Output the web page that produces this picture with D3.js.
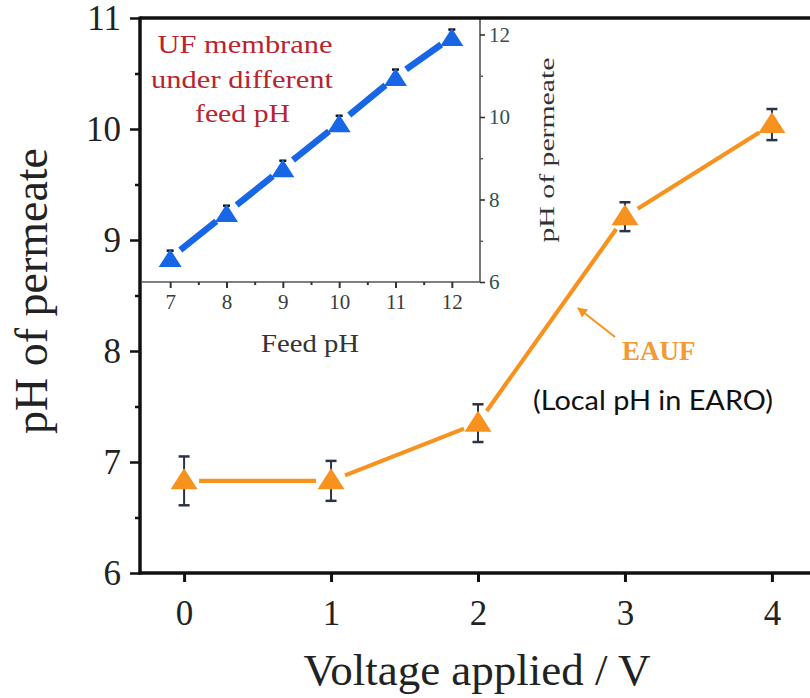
<!DOCTYPE html>
<html><head><meta charset="utf-8">
<script src="https://cdn.jsdelivr.net/npm/d3@7"></script>
<style>body{margin:0;background:#fff}svg{display:block}</style>
</head><body><svg id="c" width="810" height="698"></svg>
<script>
// Main chart data
const voltages = [0, 1, 2, 3, 4];
const permeatePH = [6.83, 6.83, 7.35, 9.21, 10.04];
const permeateErr = [0.22, 0.18, 0.17, 0.13, 0.14];
const mainYTicks = [6, 7, 8, 9, 10, 11];
const mainYMinor = [6.5, 7.5, 8.5, 9.5, 10.5];
const mainXTicks = [0, 1, 2, 3, 4];
// Inset data
const feedPH = [7, 8, 9, 10, 11, 12];
const insetPermeatePH = [6.58, 7.67, 8.76, 9.85, 10.97, 11.94];
const insetErr = [0.18, 0.18, 0.18, 0.18, 0.18, 0.18];
const insetXTicks = [7, 8, 9, 10, 11, 12];
const insetXMinor = [7.5, 8.5, 9.5, 10.5, 11.5];
const insetYTicks = [6, 8, 10, 12];
const insetYMinor = [7, 9, 11];
const insetNote = ["UF membrane", "under different", "feed pH"];

const svg = d3.select("#c");
const serif = "'Liberation Serif','Times New Roman',serif";
const orange = "#f7921e";
const blue = "#1666e6";

const x = d3.scaleLinear().domain([-0.3, 4.3]).range([140, 816]);
const y = d3.scaleLinear().domain([6, 11]).range([573, 18]);

const xi = d3.scaleLinear().domain([6.5, 12.5]).range([142, 480]);
const yi = d3.scaleLinear().domain([6, 12.4]).range([282, 18]);

function tri(w, h) { return `M0,${-h/2}L${w/2},${h/2}L${-w/2},${h/2}Z`; }

function gapSegments(xs, ys, gap) {
  const segs = [];
  for (let i = 0; i < xs.length - 1; i++) {
    const x1 = xs[i], y1 = ys[i], x2 = xs[i+1], y2 = ys[i+1];
    const dx = x2 - x1, dy = y2 - y1, L = Math.hypot(dx, dy);
    const ux = dx / L, uy = dy / L;
    segs.push([x1 + ux*gap, y1 + uy*gap, x2 - ux*gap, y2 - uy*gap]);
  }
  return segs;
}

// ---------- Inset ----------
const gi = svg.append("g");
const iax = gi.append("g").attr("transform", `translate(0,${yi(6)})`)
  .call(d3.axisBottom(xi).tickValues(insetXTicks).tickSize(6).tickPadding(6).tickFormat(d3.format("d")));
iax.select(".domain").attr("stroke", "#555").attr("stroke-width", 1.6).attr("d", `M${xi.range()[0]},0H${xi.range()[1]}`);
iax.selectAll(".tick line").attr("stroke", "#333").attr("stroke-width", 2);
iax.selectAll("text").attr("font-family", serif).attr("font-size", 21).attr("fill", "#3a3a3a");
gi.append("g").attr("transform", `translate(0,${yi(6)})`)
  .call(d3.axisBottom(xi).tickValues(insetXMinor).tickSize(3).tickFormat(""))
  .call(g => g.select(".domain").remove())
  .selectAll(".tick line").attr("stroke", "#333").attr("stroke-width", 2);
const iay = gi.append("g").attr("transform", `translate(${xi(12.5)},0)`)
  .call(d3.axisRight(yi).tickValues(insetYTicks).tickSize(5).tickPadding(4).tickFormat(d3.format("d")));
iay.select(".domain").attr("stroke", "#555").attr("stroke-width", 1.6).attr("d", `M0,${yi.range()[0]}V${yi.range()[1]}`);
iay.selectAll(".tick line").attr("stroke", "#333").attr("stroke-width", 1.6);
iay.selectAll("text").attr("font-family", serif).attr("font-size", 21).attr("fill", "#2e5058");
gi.append("g").attr("transform", `translate(${xi(12.5)},0)`)
  .call(d3.axisRight(yi).tickValues(insetYMinor).tickSize(3).tickFormat(""))
  .call(g => g.select(".domain").remove())
  .selectAll(".tick line").attr("stroke", "#555").attr("stroke-width", 1.4);
gi.append("text").attr("x", 310).attr("y", 352).attr("text-anchor", "middle")
  .attr("font-family", serif).attr("font-size", 26).attr("fill", "#333")
  .attr("textLength", 98).attr("lengthAdjust", "spacingAndGlyphs").text("Feed pH");
gi.append("text").attr("transform", `translate(554,150) rotate(-90)`).attr("text-anchor", "middle")
  .attr("font-family", serif).attr("font-size", 22).attr("fill", "#333")
  .attr("textLength", 185).attr("lengthAdjust", "spacingAndGlyphs").text("pH of permeate");
const noteX = [245, 242, 242.5], noteY = [53, 88, 122], noteLen = [175, 182, 95];
insetNote.forEach((t, i) => {
  gi.append("text").attr("x", noteX[i]).attr("y", noteY[i]).attr("text-anchor", "middle")
    .attr("font-family", serif).attr("font-size", 26).attr("fill", "#b8252f")
    .attr("textLength", noteLen[i]).attr("lengthAdjust", "spacingAndGlyphs").text(t);
});
const ipx = feedPH.map(d => xi(d)), ipy = insetPermeatePH.map(d => yi(d));
gi.selectAll("line.seg").data(gapSegments(ipx, ipy, 13)).enter().append("line")
  .attr("x1", d => d[0]).attr("y1", d => d[1]).attr("x2", d => d[2]).attr("y2", d => d[3])
  .attr("stroke", blue).attr("stroke-width", 6.5).attr("stroke-linecap", "butt");
// inset error bars (under markers)
const ie = gi.selectAll("g.ie").data(feedPH).enter().append("g");
ie.append("line").attr("x1", d => xi(d)).attr("x2", d => xi(d))
  .attr("y1", (d, i) => yi(insetPermeatePH[i] + insetErr[i])).attr("y2", (d, i) => yi(insetPermeatePH[i] - insetErr[i]))
  .attr("stroke", "#111").attr("stroke-width", 1.5);
[1, -1].forEach(s => {
  ie.append("line").attr("x1", d => xi(d) - 3.5).attr("x2", d => xi(d) + 3.5)
    .attr("y1", (d, i) => yi(insetPermeatePH[i] + s*insetErr[i])).attr("y2", (d, i) => yi(insetPermeatePH[i] + s*insetErr[i]))
    .attr("stroke", "#111").attr("stroke-width", 2.5);
});
gi.selectAll("path.mk").data(feedPH).enter().append("path")
  .attr("transform", (d, i) => `translate(${xi(d)},${yi(insetPermeatePH[i])})`)
  .attr("d", tri(23, 18)).attr("fill", blue);

// ---------- Main chart ----------
const gm = svg.append("g");
gm.append("line").attr("x1", x.range()[0]).attr("x2", x.range()[1]).attr("y1", y(11)).attr("y2", y(11))
  .attr("stroke", "#111").attr("stroke-width", 3.5);
gm.append("line").attr("x1", x.range()[1]).attr("x2", x.range()[1]).attr("y1", y(11)).attr("y2", y(6))
  .attr("stroke", "#111").attr("stroke-width", 3.5);
const ay = gm.append("g").attr("transform", `translate(${x(-0.3)},0)`)
  .call(d3.axisLeft(y).tickValues(mainYTicks).tickSize(10).tickPadding(9).tickFormat(d3.format("d")));
ay.select(".domain").attr("stroke", "#111").attr("stroke-width", 3.5).attr("d", `M0,${y.range()[0]+1.5}V${y.range()[1]-1.5}`);
ay.selectAll(".tick line").attr("stroke", "#111").attr("stroke-width", 2.5);
ay.selectAll("text").attr("font-family", serif).attr("font-size", 35).attr("fill", "#222");
gm.append("g").attr("transform", `translate(${x(-0.3)},0)`)
  .call(d3.axisLeft(y).tickValues(mainYMinor).tickSize(5).tickFormat(""))
  .call(g => g.select(".domain").remove())
  .selectAll(".tick line").attr("stroke", "#111").attr("stroke-width", 2.5);
const ax = gm.append("g").attr("transform", `translate(0,${y(6)})`)
  .call(d3.axisBottom(x).tickValues(mainXTicks).tickSize(9).tickPadding(18).tickFormat(d3.format("d")));
ax.select(".domain").attr("stroke", "#111").attr("stroke-width", 3.5).attr("d", `M${x.range()[0]-1.5},0H${x.range()[1]}`);
ax.selectAll(".tick line").attr("stroke", "#111").attr("stroke-width", 3);
ax.selectAll("text").attr("font-family", serif).attr("font-size", 35).attr("fill", "#222");
gm.append("text").attr("x", 477).attr("y", 685).attr("text-anchor", "middle")
  .attr("font-family", serif).attr("font-size", 45).attr("fill", "#222").text("Voltage applied / V");
gm.append("text").attr("transform", `translate(47,291) rotate(-90)`).attr("text-anchor", "middle")
  .attr("font-family", serif).attr("font-size", 46).attr("fill", "#222").text("pH of permeate");

const px = voltages.map(d => x(d)), py = permeatePH.map(d => y(d));
gm.selectAll("line.mseg").data(gapSegments(px, py, 15)).enter().append("line")
  .attr("x1", d => d[0]).attr("y1", d => d[1]).attr("x2", d => d[2]).attr("y2", d => d[3])
  .attr("stroke", orange).attr("stroke-width", 4.2);
const me = gm.selectAll("g.me").data(voltages).enter().append("g");
me.append("line").attr("x1", d => x(d)).attr("x2", d => x(d))
  .attr("y1", (d, i) => y(permeatePH[i] + permeateErr[i])).attr("y2", (d, i) => y(permeatePH[i] - permeateErr[i]))
  .attr("stroke", "#2b3445").attr("stroke-width", 2);
[1, -1].forEach(s => {
  me.append("line").attr("x1", d => x(d) - 5.5).attr("x2", d => x(d) + 5.5)
    .attr("y1", (d, i) => y(permeatePH[i] + s*permeateErr[i])).attr("y2", (d, i) => y(permeatePH[i] + s*permeateErr[i]))
    .attr("stroke", "#2b3445").attr("stroke-width", 2.5);
});
gm.selectAll("path.mm").data(voltages).enter().append("path")
  .attr("transform", (d, i) => `translate(${x(d)},${y(permeatePH[i]) - 2})`)
  .attr("d", tri(27, 21)).attr("fill", orange);

gm.append("defs").append("marker").attr("id", "ah").attr("viewBox", "0 0 10 10")
  .attr("refX", 9).attr("refY", 5).attr("markerWidth", 5).attr("markerHeight", 5).attr("orient", "auto")
  .append("path").attr("d", "M0,0L10,5L0,10Z").attr("fill", orange);
gm.append("line").attr("x1", 615).attr("y1", 337).attr("x2", 578).attr("y2", 308)
  .attr("stroke", orange).attr("stroke-width", 2).attr("marker-end", "url(#ah)");
gm.append("text").attr("x", 622).attr("y", 360).attr("font-family", serif).attr("font-weight", "bold")
  .attr("font-size", 27).attr("fill", "#f39a33").text("EAUF");
gm.append("text").attr("x", 533).attr("y", 410).attr("font-family", "Lato, sans-serif")
  .attr("font-size", 27).attr("fill", "#111").attr("textLength", 240).attr("lengthAdjust", "spacingAndGlyphs").text("(Local pH in EARO)");
</script></body></html>
